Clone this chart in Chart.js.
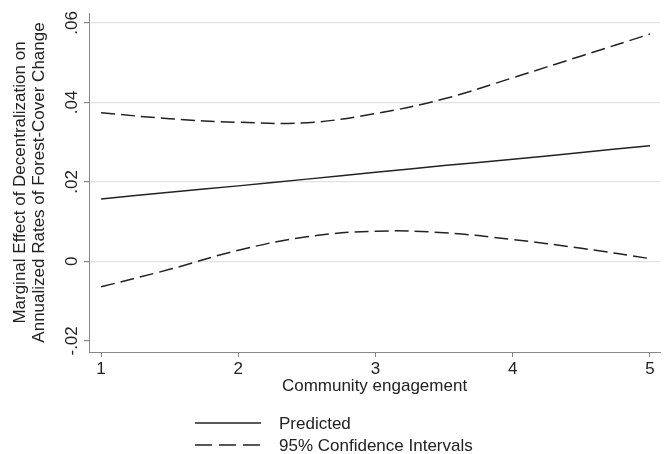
<!DOCTYPE html>
<html>
<head>
<meta charset="utf-8">
<script src="https://cdn.jsdelivr.net/npm/chart.js@4/dist/chart.umd.min.js"></script>
<style>
html, body { margin: 0; padding: 0; background: #fff; }
#wrap { width: 667px; height: 454px; }
</style>
</head>
<body>
<div id="wrap"><canvas id="myChart"></canvas></div>
<script>
// values
var engagement = [1, 1.5, 2, 2.5, 3, 3.5, 4, 4.5, 5];
var predicted = [0.0157, 0.0174, 0.0190, 0.0207, 0.0224, 0.0241, 0.0257, 0.0274, 0.0291];
var upperCI = [0.0374, 0.0359, 0.0350, 0.0349, 0.0372, 0.0409, 0.0462, 0.0517, 0.0572];
var lowerCI = [-0.0064, -0.0020, 0.0028, 0.0062, 0.0076, 0.0072, 0.0055, 0.0033, 0.0007];
var xTicks = [1, 2, 3, 4, 5];
var yTicks = [-0.02, 0, 0.02, 0.04, 0.06];
var yTickLabels = ['-.02', '0', '.02', '.04', '.06'];

var FONT = "'Liberation Sans', Arial, sans-serif";
var TEXT = '#222';
var AXIS = '#888';
var DASH = [14, 6];

function pts(ys) {
    return engagement.map(function (x, i) { return { x: x, y: ys[i] }; });
}

// text outside the plot: rotated y labels, titles, stacked legend
var extras = {
    id: 'extras',
    afterDraw: function (chart) {
        var c = chart.ctx;
        var y = chart.scales.y, x = chart.scales.x, area = chart.chartArea;
        c.save();
        c.fillStyle = TEXT;
        c.font = '17px ' + FONT;
        c.textAlign = 'center';
        c.textBaseline = 'middle';

        // y tick labels, rotated like the original
        yTicks.forEach(function (v, i) {
            c.save();
            c.translate(72, y.getPixelForValue(v));
            c.rotate(-Math.PI / 2);
            c.fillText(yTickLabels[i], 0, 0);
            c.restore();
        });

        // y title (two lines)
        var midY = (area.top + area.bottom) / 2;
        c.save();
        c.translate(20, midY);
        c.rotate(-Math.PI / 2);
        c.fillText('Marginal Effect of Decentralization on', 0, 0);
        c.restore();
        c.save();
        c.translate(39, midY);
        c.rotate(-Math.PI / 2);
        c.fillText('Annualized Rates of Forest-Cover Change', 0, 0);
        c.restore();

        // x title
        c.fillText('Community engagement', (area.left + area.right) / 2, 386);

        // legend
        var rows = [
            { label: chart.data.datasets[0].label, dash: [], y: 423 },
            { label: chart.data.datasets[1].label, dash: [17, 7], y: 445 }
        ];
        c.textAlign = 'left';
        rows.forEach(function (r) {
            c.strokeStyle = TEXT;
            c.lineWidth = 1.5;
            c.setLineDash(r.dash);
            c.beginPath();
            c.moveTo(195, r.y);
            c.lineTo(261, r.y);
            c.stroke();
            c.setLineDash([]);
            c.fillText(r.label, 279, r.y + 1);
        });
        c.restore();
    }
};

var ctx = document.getElementById('myChart').getContext('2d');
var chart = new Chart(ctx, {
    type: 'line',
    data: {
        datasets: [
            {
                label: 'Predicted',
                data: pts(predicted),
                borderColor: '#222',
                borderWidth: 1.5
            },
            {
                label: '95% Confidence Intervals',
                data: pts(upperCI),
                borderColor: '#222',
                borderWidth: 1.5,
                borderDash: DASH
            },
            {
                label: '95% Confidence Intervals (lower)',
                data: pts(lowerCI),
                borderColor: '#222',
                borderWidth: 1.5,
                borderDash: DASH
            }
        ]
    },
    options: {
        responsive: true,
        maintainAspectRatio: false,
        animation: false,
        elements: {
            point: { radius: 0 },
            line: { tension: 0.4, fill: false }
        },
        layout: { padding: { top: 13, right: 7, left: 0, bottom: 0 } },
        plugins: {
            legend: { display: false },
            tooltip: { enabled: false }
        },
        scales: {
            x: {
                type: 'linear',
                min: 0.912,
                max: 5.073,
                afterBuildTicks: function (s) {
                    s.ticks = xTicks.map(function (v) { return { value: v }; });
                },
                afterFit: function (s) { s.height = 102; },
                ticks: {
                    color: TEXT,
                    font: { family: FONT, size: 17 },
                    padding: 2,
                    maxRotation: 0,
                    callback: function (v) { return String(v); }
                },
                grid: {
                    drawOnChartArea: false,
                    drawTicks: true,
                    tickLength: 5,
                    tickColor: AXIS
                },
                border: { color: AXIS, width: 1 }
            },
            y: {
                min: -0.0228,
                max: 0.0625,
                afterBuildTicks: function (s) {
                    s.ticks = yTicks.map(function (v) { return { value: v }; });
                },
                afterFit: function (s) { s.width = 89; },
                ticks: { display: false },
                grid: {
                    color: function (c) {
                        return c.tick && c.tick.value < -0.01 ? 'rgba(0,0,0,0)' : '#e2e2e2';
                    },
                    lineWidth: 1.2,
                    drawTicks: true,
                    tickLength: 5,
                    tickColor: AXIS
                },
                border: { color: AXIS, width: 1 }
            }
        }
    },
    plugins: [extras]
});
</script>
</body>
</html>
